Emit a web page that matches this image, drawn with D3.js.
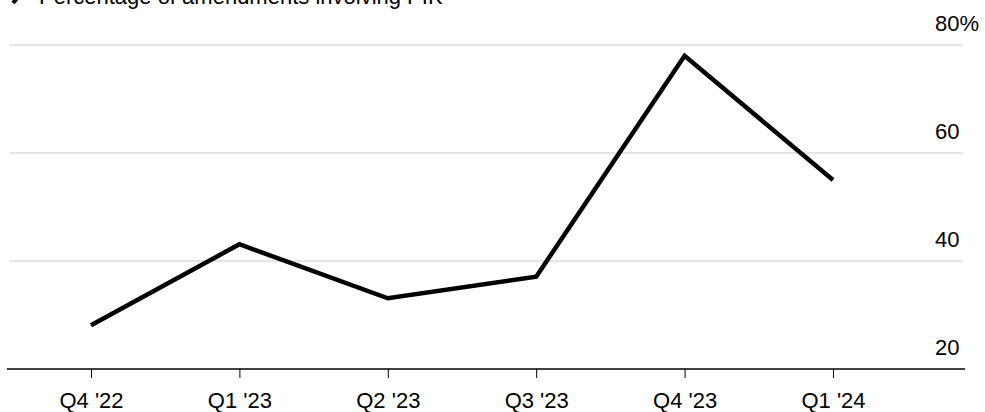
<!DOCTYPE html>
<html>
<head>
<meta charset="utf-8">
<script src="https://cdn.jsdelivr.net/npm/d3@7"></script>
<style>
  html, body { margin: 0; padding: 0; background: #fff; }
  svg { display: block; }
  text { font-family: "Liberation Sans", Arial, Helvetica, sans-serif; fill: #000; }
</style>
</head>
<body>
<svg id="chart" width="985" height="412"></svg>
<script>
// Quarterly share of amendments involving PIK
const quarters = ["Q4 '22", "Q1 '23", "Q2 '23", "Q3 '23", "Q4 '23", "Q1 '24"];
const pikShare = [28.1, 43.1, 33.1, 37.1, 78.0, 55.0];
const yTicks = [20, 40, 60, 80];
const legendLabel = "Percentage of amendments involving PIK";

const svg = d3.select("#chart");

const x = d3.scalePoint().domain(quarters).range([91, 833]);
const y = d3.scaleLinear().domain([20, 80]).range([369, 45]);

const gridLeft = 10, gridRight = 963;
const fontSize = 22;

// horizontal gridlines
svg.append("g")
  .selectAll("line")
  .data(yTicks.filter(d => d !== 20))
  .join("line")
  .attr("x1", gridLeft).attr("x2", gridRight)
  .attr("y1", d => y(d)).attr("y2", d => y(d))
  .attr("stroke", "#dcdcdc").attr("stroke-width", 1.5);

// y labels sitting above their gridlines
svg.append("g")
  .selectAll("text")
  .data(yTicks)
  .join("text")
  .attr("x", 935)
  .attr("y", d => y(d) - 14)
  .attr("font-size", fontSize)
  .text(d => d === 80 ? d + "%" : d);

// x axis: baseline, ticks and labels
const xAxis = d3.axisBottom(x).tickSize(9).tickPadding(14).tickSizeOuter(0);
const gx = svg.append("g")
  .attr("transform", `translate(0,${y(20)})`)
  .call(xAxis);
gx.select(".domain").remove();
gx.selectAll(".tick line").attr("stroke", "#000").attr("stroke-width", 1);
gx.selectAll(".tick text")
  .attr("font-size", fontSize)
  .attr("fill", "#000")
  .style("font-family", '"Liberation Sans", Arial, sans-serif');
gx.append("line")
  .attr("x1", gridLeft - 3).attr("x2", gridRight + 2)
  .attr("y1", 0).attr("y2", 0)
  .attr("stroke", "#000").attr("stroke-width", 1.5);

// the series line
const line = d3.line()
  .x((d, i) => x(quarters[i]))
  .y(d => y(d));
svg.append("path")
  .datum(pikShare)
  .attr("d", line)
  .attr("fill", "none")
  .attr("stroke", "#000")
  .attr("stroke-width", 4.5)
  .attr("stroke-linejoin", "miter")
  .attr("stroke-linecap", "butt");

// legend at the top
const legend = svg.append("g");
legend.append("line")
  .attr("x1", 13).attr("y1", 3).attr("x2", 20).attr("y2", -5)
  .attr("stroke", "#000").attr("stroke-width", 4);
legend.append("text")
  .attr("x", 39).attr("y", 4)
  .attr("font-size", fontSize)
  .text(legendLabel);
</script>
</body>
</html>
